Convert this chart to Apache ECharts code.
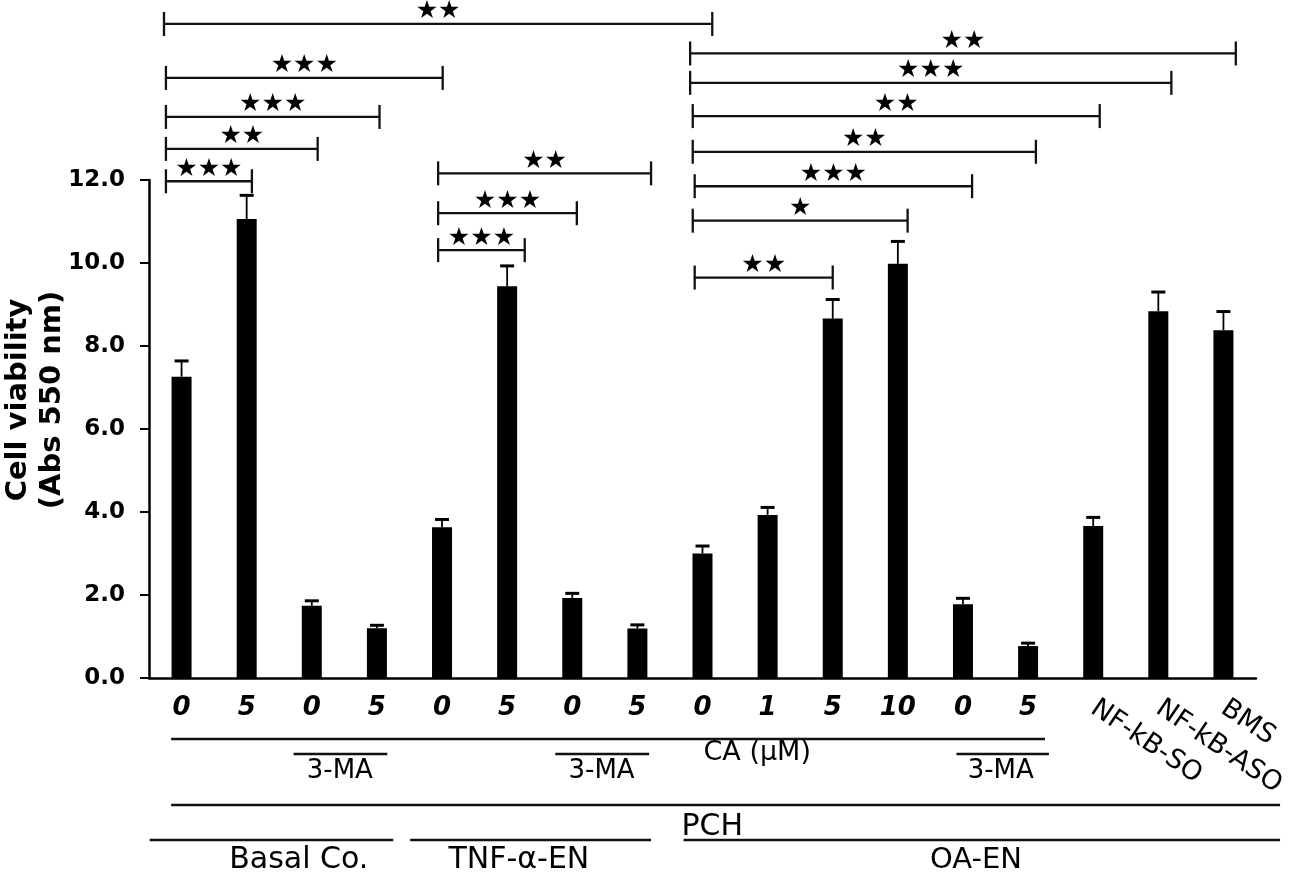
<!DOCTYPE html>
<html>
<head>
<meta charset="utf-8">
<script src="https://cdn.jsdelivr.net/npm/echarts/dist/echarts.min.js"></script>
<style>
html,body{margin:0;padding:0;background:#fff}
#chart{width:1299px;height:874px}
</style>
</head>
<body>
<div id="chart"></div>
<script>
// bar labels (CA dose in uM, then the three controls)
var doses = ['0','5','0','5','0','5','0','5','0','1','5','10','0','5','NF-kB-SO','NF-kB-ASO','BMS'];
var viability = [7.26,11.06,1.74,1.20,3.63,9.44,1.93,1.19,3.00,3.93,8.66,9.98,1.78,0.77,3.66,8.84,8.38];
var sem = [0.38,0.57,0.12,0.07,0.19,0.49,0.11,0.09,0.18,0.18,0.46,0.54,0.14,0.07,0.21,0.46,0.45];
var yTicks = [0,2,4,6,8,10,12];

// significance brackets, ends in category units, level in axis units
var sigLabels = ['**','***','***','**','***','**','***','***','**','***','**','**','***','*','**'];
var sigFrom = [-0.27,-0.24,-0.24,-0.24,-0.24,3.94,3.94,3.94,7.81,7.81,7.85,7.85,7.88,7.85,7.88];
var sigTo = [8.15,4.01,3.04,2.09,1.08,7.21,6.07,5.27,16.19,15.2,14.1,13.12,12.14,11.15,10.0];
var sigLevel = [15.76,14.46,13.52,12.75,11.97,12.16,11.20,10.31,15.05,14.34,13.54,12.68,11.85,11.02,9.65];

// treatment lines under the axis (category units)
var lineFrom = [-0.16,1.72,5.74,11.9,-0.16,-0.49,3.51,7.71];
var lineTo = [13.26,3.16,7.18,13.32,16.87,3.25,7.21,16.87];
var textLabels = ['3-MA','3-MA','3-MA','CA (μM)','PCH','Basal Co.','TNF-α-EN','OA-EN'];
var textAt = [2.43,6.45,12.58,8.84,8.15,1.8,5.18,12.2];

// layout: pixels below the zero line
var lineDrop = [61,76,76,76,127,162,162,162];
var textDrop = [93,93,93,75,149,182,182,182];
var textSize = [26,26,26,27,30,30,30,29];

var chart = echarts.init(document.getElementById('chart'));

var option = {
    animation: false,
    backgroundColor: '#fff',
    grid: {left: 149, right: 43, top: 180, bottom: 196},
    xAxis: [
        {
            type: 'category',
            data: doses,
            axisLine: {lineStyle: {color: '#000', width: 2.5}},
            axisTick: {show: false},
            axisLabel: {
                interval: 0,
                margin: 17,
                color: '#000',
                fontFamily: 'DejaVu Sans',
                fontStyle: 'italic',
                fontWeight: 'bold',
                fontSize: 26,
                formatter: function(v, i){ return i < 14 ? v : ''; }
            }
        },
        {
            type: 'category',
            data: doses,
            position: 'bottom',
            axisLine: {show: false},
            axisTick: {show: false},
            axisLabel: {
                interval: 0,
                rotate: -34,
                margin: 28,
                color: '#000',
                fontFamily: 'DejaVu Sans',
                fontSize: 27,
                formatter: function(v, i){ return i >= 14 ? v : ''; }
            }
        },
        {type: 'value', min: -0.5, max: doses.length - 0.5, show: false}
    ],
    yAxis: {
        type: 'value',
        min: yTicks[0],
        max: yTicks[yTicks.length - 1],
        interval: yTicks[1] - yTicks[0],
        splitLine: {show: false},
        axisLine: {show: true, onZero: false, lineStyle: {color: '#000', width: 2.5}},
        axisTick: {show: true, length: 9, lineStyle: {color: '#000', width: 2}},
        axisLabel: {
            margin: 24,
            color: '#000',
            fontFamily: 'DejaVu Sans',
            fontWeight: 'bold',
            fontSize: 23,
            formatter: function(v){ return v.toFixed(1); }
        }
    },
    series: [
        {
            type: 'bar',
            data: viability,
            barWidth: 20,
            itemStyle: {color: '#000'}
        },
        {
            type: 'custom',
            xAxisIndex: 0,
            data: viability.map(function(v, i){ return [i, v, v + sem[i]]; }),
            renderItem: function(params, api){
                var p0 = api.coord([api.value(0), api.value(1)]);
                var p1 = api.coord([api.value(0), api.value(2)]);
                return {
                    type: 'group',
                    children: [
                        {type: 'line', shape: {x1: p0[0], y1: p0[1], x2: p1[0], y2: p1[1]},
                         style: {stroke: '#000', lineWidth: 1.8}},
                        {type: 'line', shape: {x1: p1[0] - 7, y1: p1[1], x2: p1[0] + 7, y2: p1[1]},
                         style: {stroke: '#000', lineWidth: 3}}
                    ]
                };
            }
        },
        {
            type: 'custom',
            xAxisIndex: 2,
            clip: false,
            data: sigFrom.map(function(f, i){ return [f, sigTo[i], sigLevel[i]]; }),
            renderItem: function(params, api){
                var a = api.coord([api.value(0), api.value(2)]);
                var b = api.coord([api.value(1), api.value(2)]);
                var st = {stroke: '#111', lineWidth: 2.3};
                return {
                    type: 'group',
                    children: [
                        {type: 'line', shape: {x1: a[0], y1: a[1], x2: b[0], y2: b[1]}, style: st},
                        {type: 'line', shape: {x1: a[0], y1: a[1] - 12, x2: a[0], y2: a[1] + 12}, style: st},
                        {type: 'line', shape: {x1: b[0], y1: b[1] - 12, x2: b[0], y2: b[1] + 12}, style: st},
                        {type: 'text', style: {
                            text: sigLabels[params.dataIndex].replace(/\*/g, '★'),
                            x: (a[0] + b[0]) / 2, y: a[1] - 12,
                            align: 'center', verticalAlign: 'middle',
                            textAlign: 'center', textVerticalAlign: 'middle',
                            font: '25px "DejaVu Sans"', fill: '#000'
                        }}
                    ]
                };
            }
        }
    ]
};
chart.setOption(option);

// annotation lines and labels under the axis
var zeroY = chart.convertToPixel({yAxisIndex: 0}, 0);
function xAt(v){ return chart.convertToPixel({xAxisIndex: 2}, v); }
var gfx = [];
for (var i = 0; i < lineFrom.length; i++) {
    gfx.push({
        type: 'line',
        shape: {x1: xAt(lineFrom[i]), y1: zeroY + lineDrop[i], x2: xAt(lineTo[i]), y2: zeroY + lineDrop[i]},
        style: {stroke: '#111', lineWidth: 2.5}
    });
}
for (var j = 0; j < textLabels.length; j++) {
    gfx.push({
        type: 'text',
        x: xAt(textAt[j]),
        y: zeroY + textDrop[j],
        style: {
            text: textLabels[j],
            font: textSize[j] + 'px "DejaVu Sans"',
            fill: '#000',
            align: 'center', verticalAlign: 'middle',
            textAlign: 'center', textVerticalAlign: 'middle'
        }
    });
}
gfx.push({
    type: 'text',
    x: 35,
    y: 400,
    rotation: Math.PI / 2,
    style: {
        text: 'Cell viability\n(Abs 550 nm)',
        font: 'bold 29px "DejaVu Sans"',
        lineHeight: 34,
        fill: '#000',
        align: 'center', verticalAlign: 'middle',
        textAlign: 'center', textVerticalAlign: 'middle'
    }
});
chart.setOption({graphic: gfx});
</script>
</body>
</html>
